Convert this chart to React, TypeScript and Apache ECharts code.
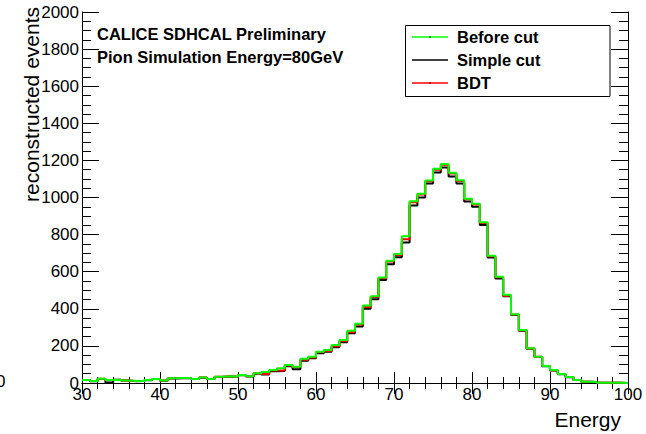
import React, { useEffect, useRef } from "react";
import * as echarts from "echarts";

// Histogram binning (lower edge of first bin, bin width)
const BIN_START = 30;
const BIN_WIDTH = 1;

// Before cut (green)
const beforeCut = [
  16, 11, 23, 16, 18, 13, 11, 11, 16, 22,
  13, 25, 27, 27, 22, 29, 22, 34, 36, 34,
  43, 36, 52, 59, 70, 79, 97, 88, 131, 142,
  169, 178, 205, 232, 281, 319, 418, 467, 569, 659,
  695, 791, 980, 1020, 1092, 1155, 1180, 1133, 1093, 993,
  966, 866, 686, 573, 476, 371, 286, 187, 142, 92,
  70, 48, 32, 16, 7, 6, 2, 1, 1, 0,
];

// Simple cut (black)
const simpleCut = [
  16, 10, 22, 3, 17, 13, 10, 11, 15, 21,
  12, 24, 26, 26, 21, 28, 21, 33, 35, 33,
  42, 35, 50, 46, 64, 65, 90, 74, 120, 133,
  160, 168, 193, 220, 268, 305, 400, 452, 555, 640,
  678, 758, 957, 1000, 1075, 1135, 1162, 1113, 1075, 978,
  950, 852, 677, 563, 468, 366, 282, 184, 140, 90,
  68, 47, 31, 16, 7, 6, 2, 1, 1, 0,
];

// BDT (red)
const bdt = [
  16, 11, 23, 16, 18, 13, 11, 11, 16, 22,
  13, 25, 27, 27, 22, 29, 22, 34, 36, 34,
  43, 36, 52, 48, 68, 67, 95, 86, 126, 137,
  166, 172, 198, 226, 274, 316, 410, 463, 565, 655,
  690, 775, 975, 1016, 1088, 1150, 1176, 1129, 1089, 990,
  962, 862, 683, 570, 470, 369, 285, 186, 141, 91,
  69, 48, 32, 16, 7, 6, 2, 1, 1, 0,
];

const X_MIN = 30;
const X_MAX = 100;
const X_INTERVAL = 10;
const Y_MIN = 0;
const Y_MAX = 2000;
const Y_INTERVAL = 200;

const legendNames = ["Before cut", "Simple cut", "BDT"];
const legendColors = ["#00ff00", "#000000", "#ff0000"];
const infoLines = ["CALICE SDHCAL Preliminary", "Pion Simulation Energy=80GeV"];
const xTitle = "Energy";
const yTitle = "reconstructed events";

const FONT = "'Liberation Sans', Arial, Helvetica, sans-serif";

function toSteps(values: number[]): [number, number][] {
  const pts: [number, number][] = values.map((v, i) => [BIN_START + i * BIN_WIDTH, v]);
  pts.push([BIN_START + values.length * BIN_WIDTH, values[values.length - 1]]);
  return pts;
}

export default function App() {
  const ref = useRef<HTMLDivElement>(null);

  useEffect(() => {
    document.body.style.margin = "0";
    if (!ref.current) return;
    const chart = echarts.init(ref.current, undefined, { renderer: "svg" });

    const axisColor = "#000";
    const xAxisCommon = {
      type: "value" as const,
      min: X_MIN,
      max: X_MAX,
      interval: X_INTERVAL,
      splitLine: { show: false },
      axisLine: { show: true, lineStyle: { color: axisColor, width: 1 } },
      axisTick: { show: true, inside: true, length: 11, lineStyle: { color: axisColor } },
      minorTick: { show: true, splitNumber: 5, length: 6, lineStyle: { color: axisColor } },
      minorSplitLine: { show: false },
    };
    const yAxisCommon = {
      type: "value" as const,
      min: Y_MIN,
      max: Y_MAX,
      interval: Y_INTERVAL,
      splitLine: { show: false },
      axisLine: { show: true, lineStyle: { color: axisColor, width: 1 } },
      axisTick: { show: true, inside: true, length: 17, lineStyle: { color: axisColor } },
      minorTick: { show: true, splitNumber: 4, length: 9, lineStyle: { color: axisColor } },
      minorSplitLine: { show: false },
    };

    const legendBox = { x: 405.5, y: 25.5, w: 204.5, h: 71 };
    const legendRows = [37, 60, 83];

    const graphics: any[] = [];
    // y-axis title
    graphics.push({
      type: "text",
      x: 31,
      y: 7,
      rotation: Math.PI / 2,
      style: {
        text: yTitle,
        font: `21px ${FONT}`,
        fill: "#000",
        align: "right",
        verticalAlign: "middle",
      },
    });
    // x-axis title
    graphics.push({
      type: "text",
      x: 621,
      y: 419,
      style: {
        text: xTitle,
        font: `21px ${FONT}`,
        fill: "#000",
        align: "right",
        verticalAlign: "middle",
      },
    });
    // stray clipped label at far left
    graphics.push({
      type: "text",
      x: -4,
      y: 381,
      style: { text: "0", font: `17px ${FONT}`, fill: "#000", align: "left", verticalAlign: "middle" },
    });
    // info texts
    infoLines.forEach((t, i) => {
      graphics.push({
        type: "text",
        x: 97,
        y: 34 + i * 22.5,
        style: {
          text: t,
          font: `bold 16.5px ${FONT}`,
          fill: "#000",
          align: "left",
          verticalAlign: "middle",
        },
      });
    });
    // legend
    graphics.push({
      type: "rect",
      shape: { x: legendBox.x, y: legendBox.y, width: legendBox.w, height: legendBox.h },
      style: { fill: "#fff", stroke: "#000", lineWidth: 1 },
      z: 100,
    });
    legendNames.forEach((name, i) => {
      const yy = legendRows[i];
      graphics.push({
        type: "line",
        shape: { x1: 412, y1: yy, x2: 448, y2: yy },
        style: { stroke: legendColors[i], lineWidth: 1.5 },
        z: 101,
      });
      if (i !== 1) {
        graphics.push({
          type: "circle",
          shape: { cx: 430, cy: yy, r: 0.7 },
          style: { fill: "#000" },
          z: 102,
        });
      }
      graphics.push({
        type: "text",
        x: 457,
        y: yy,
        style: {
          text: name,
          font: `bold 16.5px ${FONT}`,
          fill: "#000",
          align: "left",
          verticalAlign: "middle",
        },
        z: 101,
      });
    });

    const mkSeries = (name: string, values: number[], color: string, z: number) => ({
      name,
      type: "line" as const,
      step: "end" as const,
      data: toSteps(values),
      xAxisIndex: 0,
      yAxisIndex: 0,
      showSymbol: false,
      symbol: "none",
      lineStyle: { color, width: 2 },
      z,
    });

    const plain = (v: number) => String(v);

    chart.setOption({
      animation: false,
      backgroundColor: "#fff",
      grid: { left: 82, right: 18, top: 12, bottom: 51, containLabel: false },
      xAxis: [
        {
          ...xAxisCommon,
          position: "bottom",
          axisLabel: { show: true, fontSize: 17, color: "#000", fontFamily: FONT, margin: 3, formatter: plain },
        },
        {
          ...xAxisCommon,
          position: "top",
          axisLabel: { show: false },
        },
      ],
      yAxis: [
        {
          ...yAxisCommon,
          position: "left",
          axisLabel: { show: true, fontSize: 17, color: "#000", fontFamily: FONT, margin: 3, formatter: plain },
        },
        {
          ...yAxisCommon,
          position: "right",
          axisLabel: { show: false },
        },
      ],
      series: [
        mkSeries(legendNames[1], simpleCut, legendColors[1], 2),
        mkSeries(legendNames[2], bdt, legendColors[2], 3),
        mkSeries(legendNames[0], beforeCut, legendColors[0], 4),
      ],
      graphic: graphics,
    });

    return () => {
      chart.dispose();
    };
  }, []);

  return <div ref={ref} style={{ width: 646, height: 434 }} />;
}
